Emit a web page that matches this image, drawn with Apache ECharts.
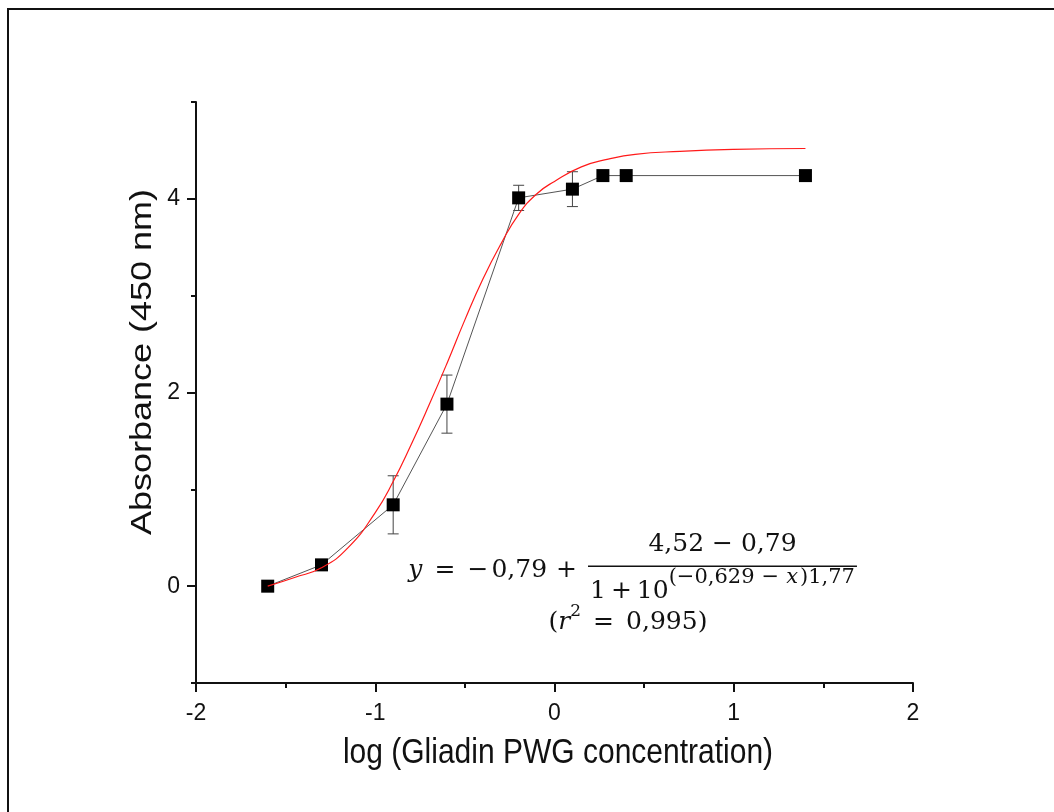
<!DOCTYPE html>
<html>
<head>
<meta charset="utf-8">
<script src="https://cdn.jsdelivr.net/npm/echarts@6/dist/echarts.min.js"></script>
<style>
  html, body { margin: 0; padding: 0; background: #fff; }
  #chart { width: 1054px; height: 812px; }
</style>
</head>
<body>
<div id="chart"></div>
<script>
// Measured standard points: log concentration, mean absorbance, error (SD)
const logConc = [-1.6, -1.3, -0.9, -0.6, -0.2, 0.1, 0.27, 0.4, 1.4];
const absorbance = [0.0, 0.22, 0.84, 1.88, 4.01, 4.1, 4.24, 4.24, 4.24];
const absError = [0, 0, 0.3, 0.3, 0.13, 0.18, 0, 0, 0];

// Fitted dose-response curve, sampled along log concentration
const fitX = [-1.6, -1.45, -1.3, -1.15, -1.0, -0.9, -0.8, -0.7, -0.6, -0.5, -0.4, -0.3, -0.2, -0.1, 0.0, 0.15, 0.3, 0.45, 0.7, 1.0, 1.4];
const fitY = [0.0, 0.09, 0.19, 0.40, 0.76, 1.08, 1.46, 1.87, 2.3, 2.75, 3.17, 3.53, 3.84, 4.05, 4.18, 4.33, 4.41, 4.46, 4.49, 4.51, 4.52];

// Axis ticks
const xTickLabels = [-2, -1, 0, 1, 2];
const yTickSlots = ['-1', '0', '1', '2', '3', '4', '5'];
const yMajorTicks = [0, 2, 4];

const xTitle = 'log (Gliadin PWG concentration)';
const yTitle = 'Absorbance (450 nm)';

const sansFamily = 'Liberation Sans';
const sansFont = '"Liberation Sans", Arial, sans-serif';
const mathFamily = '"DejaVu Serif", serif';

const chart = echarts.init(document.getElementById('chart'), null, { renderer: 'canvas' });

const points = logConc.map((x, i) => [x, absorbance[i]]);
const errData = logConc.map((x, i) => [x, absorbance[i], absError[i]]).filter(d => d[2] > 0);
const fitData = fitX.map((x, i) => [x, fitY[i]]);

// ---- Equation typesetting helpers ----
const mctx = document.createElement('canvas').getContext('2d');
function fontOf(r) { return (r.italic ? 'italic ' : '') + r.size + 'px ' + mathFamily; }
function runW(r) {
  if (r.gap != null) return r.gap;
  mctx.font = fontOf(r);
  return mctx.measureText(r.t).width;
}
function layoutRuns(runs, x, y, align) {
  const total = runs.reduce((s, r) => s + runW(r), 0);
  let cur = align === 'center' ? x - total / 2 : (align === 'right' ? x - total : x);
  const start = cur;
  const els = [];
  runs.forEach(r => {
    const w = runW(r);
    if (r.gap == null) {
      els.push({
        type: 'text', x: cur, y: y + (r.dy || 0), silent: true,
        style: { text: r.t, font: fontOf(r), fill: '#111', align: 'left', verticalAlign: 'middle' }
      });
    }
    cur += w;
  });
  return { els, start, end: cur };
}

const big = 25, sup = 21;
const denom = layoutRuns([
  { t: '1', size: big }, { gap: 5 }, { t: '+', size: big }, { gap: 5 }, { t: '10', size: big },
  { t: '(−0,629', size: sup, dy: -13 }, { gap: 7 },
  { t: '−', size: sup, dy: -13 }, { gap: 7 },
  { t: 'x', size: sup, italic: true, dy: -13 }, { gap: 2 },
  { t: ')1,77', size: sup, dy: -13 }
], 590, 591, 'left');
const barL = 588, barR = denom.end + 2;
const numer = layoutRuns([{ t: '4,52 − 0,79', size: big }], (barL + barR) / 2, 544, 'center');
const lhs = layoutRuns([
  { t: 'y', size: big, italic: true }, { gap: 12 },
  { t: '=', size: big }, { gap: 12 },
  { t: '−', size: big }, { gap: 3 },
  { t: '0,79', size: big }, { gap: 9 },
  { t: '+', size: big }
], barL - 11, 570, 'right');
const rline = layoutRuns([
  { t: '(', size: big },
  { t: 'r', size: big, italic: true },
  { t: '2', size: 17, dy: -10 }, { gap: 12 },
  { t: '=', size: big }, { gap: 12 },
  { t: '0,995)', size: big }
], 628, 622, 'center');

const graphics = [
  // outer frame
  { type: 'rect', silent: true, shape: { x: 8, y: 9, width: 1200, height: 1000 },
    style: { fill: 'none', stroke: '#111', lineWidth: 2 } },
  // fraction bar
  { type: 'rect', silent: true, shape: { x: barL, y: 565.5, width: barR - barL, height: 1.6 },
    style: { fill: '#111' } },
  // axis titles (slightly tall lettering)
  { type: 'text', silent: true, x: 558, y: 753, scaleY: 1.15,
    style: { text: xTitle, font: '30px ' + sansFont, fill: '#111', align: 'center', verticalAlign: 'middle' } },
  { type: 'text', silent: true, x: 143, y: 362, rotation: Math.PI / 2, scaleX: 1.2,
    style: { text: yTitle, font: '30px ' + sansFont, fill: '#111', align: 'center', verticalAlign: 'middle' } }
].concat(lhs.els, numer.els, denom.els, rline.els);

const tickLine = { color: '#111', width: 2 };

const option = {
  backgroundColor: '#fff',
  animation: false,
  grid: { left: 196, top: 102, right: 141, bottom: 129, containLabel: false },
  xAxis: {
    type: 'value', min: -2, max: 2, interval: 1,
    axisLine: { show: true, onZero: false, lineStyle: { color: '#111', width: 2 } },
    axisTick: { show: true, inside: false, length: 9, lineStyle: tickLine },
    minorTick: { show: true, splitNumber: 2, length: 5, lineStyle: tickLine },
    axisLabel: {
      margin: 19, fontFamily: sansFamily, fontSize: 23, color: '#111',
      formatter: v => (xTickLabels.includes(v) ? String(v) : '')
    },
    splitLine: { show: false }
  },
  yAxis: [
    {
      // value axis: data scale, axis line and labels
      type: 'value', min: -1, max: 5,
      axisLine: { show: true, onZero: false, lineStyle: { color: '#111', width: 2 } },
      axisTick: { show: false },
      axisLabel: { margin: 16, fontFamily: sansFamily, fontSize: 23, color: '#111', customValues: yMajorTicks },
      splitLine: { show: false }
    },
    {
      // minor ticks at -1, 1, 3, 5
      type: 'value', min: -1, max: 5, interval: 2, position: 'left',
      axisLine: { show: false, onZero: false },
      axisTick: { show: true, inside: false, length: 5, lineStyle: tickLine },
      axisLabel: { show: false },
      splitLine: { show: false }
    },
    {
      // major ticks at 0, 2, 4
      type: 'category', data: yTickSlots, boundaryGap: false, position: 'left',
      axisLine: { show: false, onZero: false },
      axisTick: { show: true, inside: false, length: 9, interval: (i) => i % 2 === 1, lineStyle: tickLine },
      axisLabel: { show: false },
      splitLine: { show: false }
    }
  ],
  series: [
    {
      name: 'SD',
      type: 'custom',
      z: 2,
      data: errData,
      renderItem: (params, api) => {
        const x = api.value(0), y = api.value(1), e = api.value(2);
        const top = api.coord([x, y + e]);
        const bot = api.coord([x, y - e]);
        const cap = 5.5;
        const st = { stroke: '#444', lineWidth: 1 };
        return {
          type: 'group',
          children: [
            { type: 'line', shape: { x1: top[0], y1: top[1], x2: bot[0], y2: bot[1] }, style: st },
            { type: 'line', shape: { x1: top[0] - cap, y1: top[1], x2: top[0] + cap, y2: top[1] }, style: st },
            { type: 'line', shape: { x1: bot[0] - cap, y1: bot[1], x2: bot[0] + cap, y2: bot[1] }, style: st }
          ]
        };
      }
    },
    {
      name: 'Absorbance',
      type: 'line',
      z: 3,
      data: points,
      symbol: 'rect',
      symbolSize: 13,
      itemStyle: { color: '#000' },
      lineStyle: { color: '#555', width: 1 }
    },
    {
      name: 'Fit',
      type: 'line',
      z: 4,
      data: fitData,
      smooth: true,
      showSymbol: false,
      symbol: 'none',
      lineStyle: { color: '#ff1a1a', width: 1.2 }
    }
  ],
  graphic: graphics
};

chart.setOption(option);
</script>
</body>
</html>
